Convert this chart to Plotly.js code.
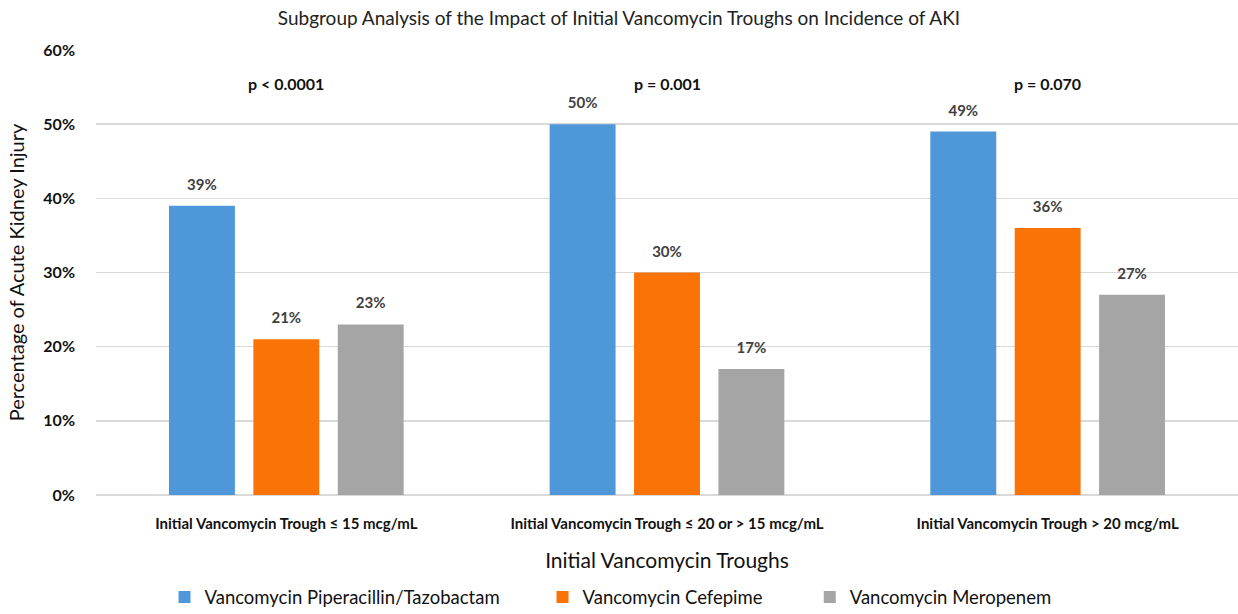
<!DOCTYPE html>
<html>
<head>
<meta charset="utf-8">
<script src="https://cdn.plot.ly/plotly-3.0.1.min.js"></script>
<style>html,body{margin:0;padding:0;background:#fff;}#chart{width:1238px;height:614px;}</style>
</head>
<body>
<div id="chart"></div>
<script>
const categories = [
  "Initial Vancomycin Trough \u2264 15 mcg/mL",
  "Initial Vancomycin Trough \u2264 20 or > 15 mcg/mL",
  "Initial Vancomycin Trough > 20 mcg/mL"
];
const seriesNames = [
  "Vancomycin Piperacillin/Tazobactam",
  "Vancomycin Cefepime",
  "Vancomycin Meropenem"
];
const pipTazo = [0.39, 0.50, 0.49];
const cefepime = [0.21, 0.30, 0.36];
const meropenem = [0.23, 0.17, 0.27];
const pValues = ["p < 0.0001", "p = 0.001", "p = 0.070"];
const pValueHeight = 0.555;
const colors = ["#4e97d8", "#f97307", "#a5a5a5"];

const FONT = "Lato, 'Open Sans', sans-serif";
const legendIds = ["legend", "legend2", "legend3"];
const legendX = [0.06, 0.391, 0.625];
const allSeries = [pipTazo, cefepime, meropenem];
const barTraces = allSeries.map((vals, i) => ({
  type: "bar",
  name: seriesNames[i],
  legend: legendIds[i],
  offsetgroup: String(i),
  x: categories,
  y: vals,
  marker: {color: colors[i]},
  hoverinfo: "skip"
}));
const labelTraces = allSeries.map((vals, i) => ({
  type: "scatter",
  mode: "markers+text",
  showlegend: false,
  offsetgroup: String(i),
  x: categories,
  y: vals,
  text: vals.map(v => Math.round(v * 100) + "%"),
  textposition: "top center",
  marker: {size: 18, color: "rgba(0,0,0,0)"},
  cliponaxis: false,
  textfont: {family: FONT, size: 15, color: "#404040", weight: "bold"},
  hoverinfo: "skip"
}));

const legendBase = {
  orientation: "h", xanchor: "left", y: -0.23, yanchor: "middle",
  font: {family: FONT, size: 18.5, color: "#111"},
  bgcolor: "rgba(0,0,0,0)"
};

const layout = {
  width: 1238, height: 614,
  margin: {l: 96, r: 0, t: 50, b: 119, autoexpand: false},
  paper_bgcolor: "#fff", plot_bgcolor: "#fff",
  barmode: "group",
  bargap: 0.335,
  bargroupgap: 0.219,
  scattermode: "group",
  scattergap: 0.335,
  title: {
    text: "Subgroup Analysis of the Impact of Initial Vancomycin Troughs on Incidence of AKI",
    font: {family: FONT, size: 19, color: "#222"},
    x: 0.5, xanchor: "center", y: 1 - 18 / 614, yref: "container", yanchor: "middle"
  },
  xaxis: {
    type: "category",
    tickfont: {family: FONT, size: 15, color: "#111", weight: "bold"},
    ticklabelstandoff: 18,
    showgrid: false, zeroline: false, showline: false, ticks: "",
    title: {text: "Initial Vancomycin Troughs", font: {family: FONT, size: 21, color: "#111"}, standoff: 22},
    automargin: false
  },
  yaxis: {
    range: [0, 0.6],
    dtick: 0.1,
    tickformat: ".0%",
    tickfont: {family: FONT, size: 16, color: "#111", weight: "bold"},
    ticklabelstandoff: 20,
    showgrid: true, gridcolor: "#d9d9d9", gridwidth: 1.5,
    zeroline: true, zerolinecolor: "#d9d9d9", zerolinewidth: 1.5,
    showline: false, ticks: "", ticklen: 0,
    title: {text: "Percentage of Acute Kidney Injury", font: {family: FONT, size: 20, color: "#111"}, standoff: 13},
    automargin: false
  },
  legend: Object.assign({}, legendBase, {x: legendX[0]}),
  legend2: Object.assign({}, legendBase, {x: legendX[1]}),
  legend3: Object.assign({}, legendBase, {x: legendX[2]}),
  annotations: categories.map((c, i) => ({
    x: c, y: pValueHeight, xref: "x", yref: "y",
    text: pValues[i], showarrow: false,
    font: {family: FONT, size: 16, color: "#111", weight: "bold"}
  })),
  showlegend: true
};

Plotly.newPlot("chart", barTraces.concat(labelTraces), layout, {displayModeBar: false, staticPlot: true});
</script>
</body>
</html>
